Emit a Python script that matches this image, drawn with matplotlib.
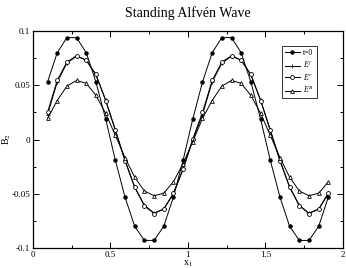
import numpy as np
import matplotlib
matplotlib.use("Agg")
import matplotlib.pyplot as plt
from matplotlib.ticker import MultipleLocator

# --- DATA ---
x1 = [0.09375 + 0.0625 * k for k in range(30)]

t0_half = [0.053, 0.080, 0.094, 0.094, 0.080, 0.053, 0.019, -0.019,
           -0.053, -0.080, -0.093, -0.093, -0.080, -0.053, -0.019, 0.019]
ee_half = [0.025, 0.0545, 0.0714, 0.0773, 0.073, 0.060, 0.036, 0.0085,
           -0.0196, -0.0441, -0.0611, -0.0682, -0.0642, -0.0497, -0.0271, 0.0005]
ef_half = [0.023, 0.053, 0.0705, 0.0768, 0.0733, 0.0595, 0.0365, 0.009,
           -0.019, -0.0436, -0.0606, -0.0678, -0.0640, -0.0497, -0.0275, -0.0003]
eb_half = [0.0195, 0.036, 0.0493, 0.0545, 0.0518, 0.0407, 0.0242, 0.0039,
           -0.0167, -0.0347, -0.0474, -0.0518, -0.0495, -0.0389, -0.0222, -0.0019]

t0 = t0_half + t0_half[:14]
e_f = ef_half + ef_half[:14]
e_e = ee_half + ee_half[:14]
e_b = eb_half + eb_half[:14]

labels = ["t=0", "$E^f$", "$E^e$", "$E^B$"]

# --- STYLE ---
plt.rcParams['font.family'] = ['Liberation Serif', 'DejaVu Serif']
plt.rcParams['mathtext.fontset'] = 'stix'

fig = plt.figure(figsize=(3.46, 2.68), dpi=100)
ax = fig.add_axes([0.0954, 0.0746, 0.8956, 0.8094])

lw = 0.7
ax.plot(x1, t0, '-o', color='black', lw=lw, ms=2.2, label=labels[0])
ax.plot(x1, e_f, '-+', color='black', lw=lw, ms=3.4, mew=0.6, label=labels[1])
ax.plot(x1, e_e, '-o', color='black', lw=lw, ms=2.8, mfc='white', mew=0.6, label=labels[2])
ax.plot(x1, e_b, '-^', color='black', lw=lw, ms=2.7, mfc='white', mew=0.6, label=labels[3])

ax.set_xlim(0, 2)
ax.set_ylim(-0.1, 0.1)
ax.xaxis.set_major_locator(MultipleLocator(0.5))
ax.xaxis.set_minor_locator(MultipleLocator(0.25))
ax.yaxis.set_major_locator(MultipleLocator(0.05))
ax.yaxis.set_minor_locator(MultipleLocator(0.025))
ax.xaxis.set_major_formatter(lambda v, p: f"{v:g}")
ax.yaxis.set_major_formatter(lambda v, p: f"{v:g}")
ax.tick_params(which='both', direction='in', top=True, right=True,
               labelsize=6.5, width=0.7, pad=2)
ax.tick_params(which='major', length=4)
ax.tick_params(which='minor', length=2)
for s in ax.spines.values():
    s.set_linewidth(0.9)

ax.set_title("Standing Alfvén Wave", fontsize=10, pad=10)
ax.set_xlabel("x$_1$", fontsize=7, labelpad=0)
ax.set_ylabel("B$_2$", fontsize=7)
ax.yaxis.set_label_coords(-0.066, 0.5)

leg = ax.legend(loc='upper right', bbox_to_anchor=(0.915, 0.93), fontsize=5.5,
                frameon=True, fancybox=False, edgecolor='black',
                handlelength=2.0, borderpad=0.35, labelspacing=0.25,
                handletextpad=0.4, borderaxespad=0)
leg.get_frame().set_linewidth(0.7)

fig.savefig("out.png", dpi=100)
